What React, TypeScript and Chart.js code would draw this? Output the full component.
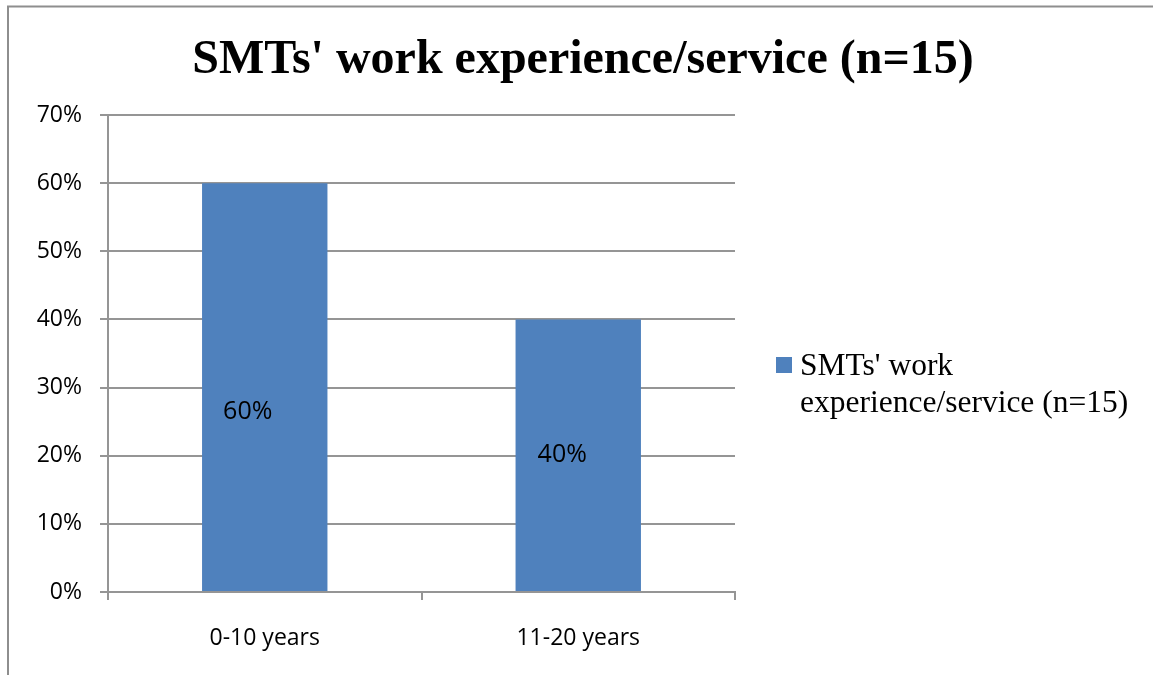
import React, { useEffect, useRef } from "react";
import { Chart, registerables } from "chart.js";

Chart.register(...registerables);

const categories = ["0-10 years", "11-20 years"];
const seriesName = "SMTs' work experience/service (n=15)";
const values = [60, 40];
const yTicks = [0, 10, 20, 30, 40, 50, 60, 70];
const titleText = "SMTs' work experience/service (n=15)";
const legendLines = ["SMTs' work", "experience/service (n=15)"];

const BAR = "#4F81BD";
const GRID = "#959595";
const SANS = "'Open Sans', 'Liberation Sans', sans-serif";
const SERIF = "'Liberation Serif', 'Times New Roman', serif";

const decorPlugin = {
  id: "decor",
  beforeDraw(chart: any) {
    const ctx = chart.ctx;
    ctx.save();
    ctx.fillStyle = "#ffffff";
    ctx.fillRect(0, 0, chart.width, chart.height);
    ctx.strokeStyle = "#8e8e8e";
    ctx.lineWidth = 2;
    ctx.beginPath();
    ctx.moveTo(8, chart.height + 5);
    ctx.lineTo(8, 6.5);
    ctx.lineTo(chart.width + 5, 6.5);
    ctx.stroke();
    ctx.restore();
  },
  afterDraw(chart: any) {
    const ctx = chart.ctx;
    ctx.save();
    // title
    ctx.fillStyle = "#000";
    ctx.font = `bold 48px ${SERIF}`;
    ctx.textAlign = "center";
    ctx.textBaseline = "alphabetic";
    ctx.fillText(titleText, 583, 73);
    // legend
    ctx.fillStyle = BAR;
    ctx.fillRect(776, 357, 16, 16);
    ctx.fillStyle = "#000";
    ctx.font = `31.5px ${SERIF}`;
    ctx.textAlign = "left";
    ctx.fillText(legendLines[0], 800, 375);
    ctx.fillText(legendLines[1], 800, 412);
    // data labels
    const meta = chart.getDatasetMeta(0);
    const offs = [
      [-17, 25],
      [-16, 0],
    ];
    ctx.font = `25px ${SANS}`;
    ctx.textAlign = "center";
    ctx.textBaseline = "middle";
    meta.data.forEach((bar: any, i: number) => {
      const p = bar.getProps(["x", "y", "base"], true);
      const cy = (p.y + p.base) / 2;
      ctx.fillText(values[i] + "%", p.x + offs[i][0], cy + offs[i][1]);
    });
    ctx.restore();
  },
};

export default function App() {
  const ref = useRef<HTMLCanvasElement>(null);
  useEffect(() => {
    document.body.style.margin = "0";
    const chart = new Chart(ref.current!, {
      type: "bar",
      data: {
        labels: categories,
        datasets: [
          {
            label: seriesName,
            data: values,
            backgroundColor: BAR,
            borderWidth: 0,
            categoryPercentage: 1,
            barPercentage: 0.4,
          },
        ],
      },
      options: {
        animation: false,
        responsive: false,
        maintainAspectRatio: false,
        layout: { padding: { top: 115, left: 0, right: 418, bottom: 0 } },
        plugins: {
          legend: { display: false },
          title: { display: false },
          tooltip: { enabled: false },
        },
        scales: {
          x: {
            afterFit(scale: any) {
              scale.height = 83;
            },
            grid: {
              offset: true,
              drawOnChartArea: false,
              drawTicks: true,
              tickLength: 8,
              color: GRID,
              lineWidth: 2,
            },
            border: { display: true, color: GRID, width: 2 },
            ticks: {
              color: "#000",
              font: { family: SANS, size: 23 },
              padding: 25,
            },
          },
          y: {
            min: 0,
            max: 70,
            afterFit(scale: any) {
              scale.width = 108;
            },
            afterBuildTicks(scale: any) {
              scale.ticks = yTicks.map((v) => ({ value: v }));
            },
            grid: {
              color: GRID,
              tickLength: 8,
              drawTicks: true,
              lineWidth: 2,
            },
            border: { display: true, color: GRID, width: 2 },
            ticks: {
              color: "#000",
              font: { family: SANS, size: 23 },
              padding: 18,
              callback: (v: any) => v + "%",
            },
          },
        },
      },
      plugins: [decorPlugin],
    });
    return () => chart.destroy();
  }, []);
  return (
    <div style={{ position: "absolute", left: 0, top: 0, width: 1153, height: 675 }}>
      <canvas ref={ref} width={1153} height={675} />
    </div>
  );
}
